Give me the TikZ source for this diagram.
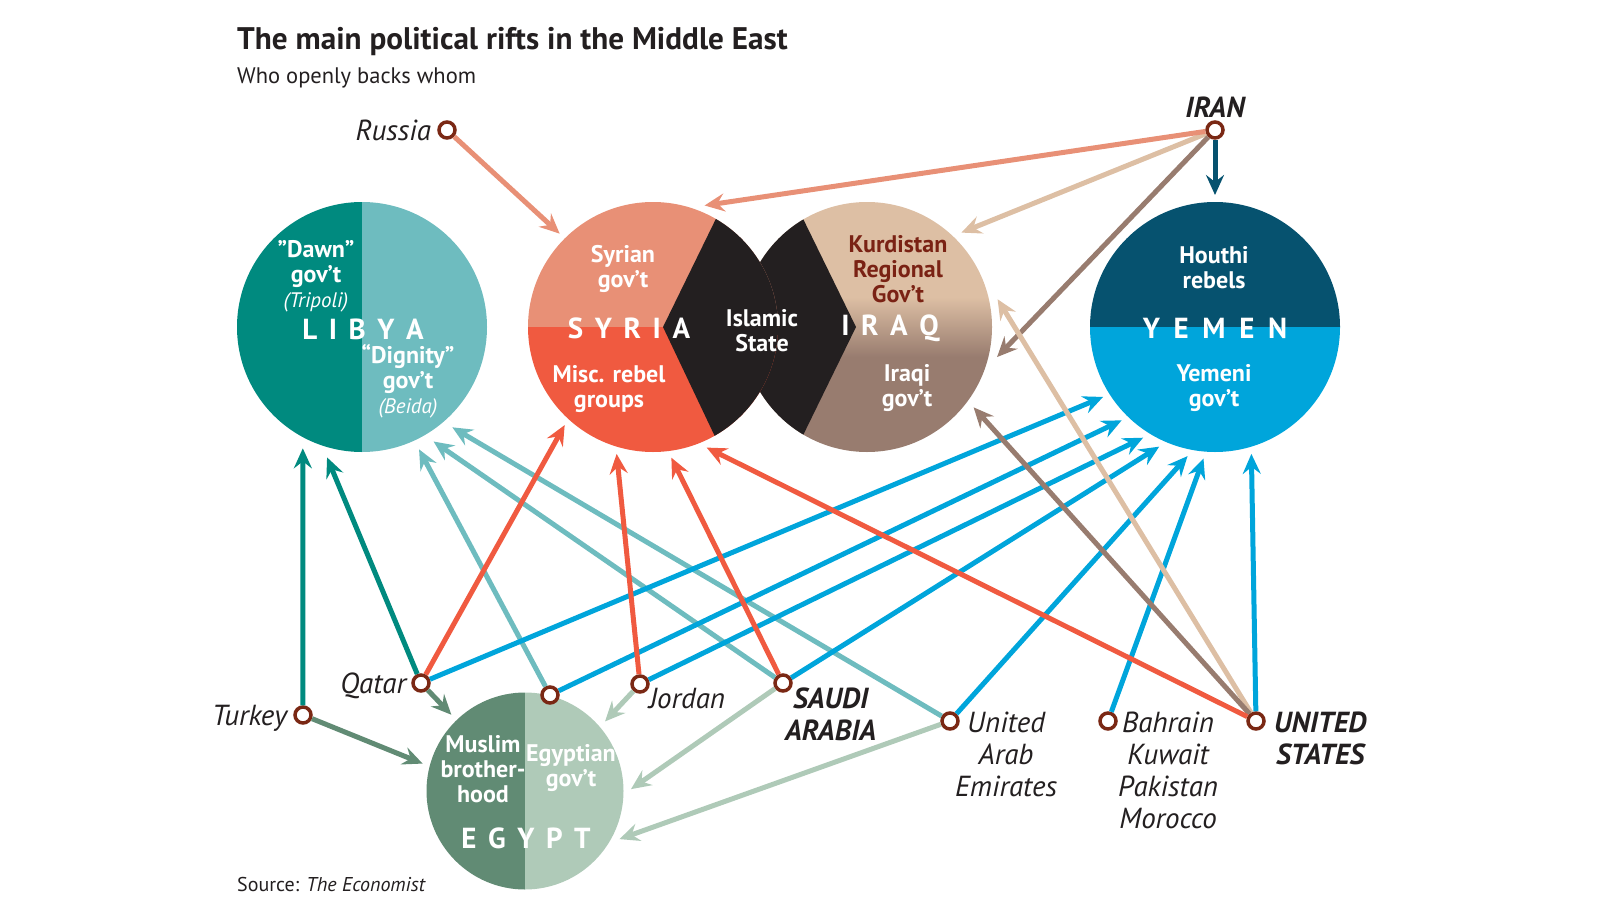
\documentclass[tikz,border=0pt]{standalone}
\usepackage{fontspec}
\setmainfont{PT Sans}
\usepackage{tikz}
\usetikzlibrary{arrows.meta, positioning}
\definecolor{ink}{RGB}{35,31,32}
\definecolor{ringbrown}{RGB}{122,40,20}
\definecolor{dawn}{RGB}{0,138,127}
\definecolor{dignity}{RGB}{110,188,191}
\definecolor{syriagov}{RGB}{232,144,118}
\definecolor{rebels}{RGB}{240,90,64}
\definecolor{isblack}{RGB}{35,31,32}
\definecolor{kurds}{RGB}{221,191,164}
\definecolor{kurdtext}{RGB}{122,34,20}
\definecolor{iraqgov}{RGB}{152,124,111}
\definecolor{houthi}{RGB}{6,82,111}
\definecolor{yemengov}{RGB}{0,165,219}
\definecolor{brotherhood}{RGB}{97,139,116}
\definecolor{egyptgov}{RGB}{175,202,184}
\pgfdeclareverticalshading{iraqfade}{100bp}{color(0bp)=(iraqgov); color(44bp)=(iraqgov); color(56bp)=(kurds); color(100bp)=(kurds)}
\newcommand{\setsz}[2]{\fontsize{#1}{#2}\selectfont}
\newcommand{\lgap}{\hspace{0.4em}}

\begin{document}
\begin{tikzpicture}[x=1pt, y=-1pt,
    zone/.style={circle, minimum size=#1, inner sep=0pt, outer sep=0pt},
    country/.style={circle, draw=ringbrown, fill=white, line width=3.5pt,
                    minimum size=16pt, inner sep=0pt},
    lab/.style={text=ink, font=\itshape\setsz{29}{32}, inner sep=1pt, align=center},
    blab/.style={lab, font=\bfseries\itshape\setsz{29}{32}},
    inlab/.style={text=white, font=\bfseries\setsz{24}{25}, align=center, inner sep=0pt},
    big/.style={text=white, font=\bfseries\setsz{29}{30}, inner sep=0pt},
    arr/.style={line width=5pt, -{Stealth[length=20pt, width=18pt, inset=7pt]}}
  ]
  \useasboundingbox (0,0) rectangle (1598,907);

  \node[anchor=base west, inner sep=0pt, text=ink, font=\bfseries\setsz{31.2}{36}]
    (title) at (237,49) {The main political rifts in the Middle East};
  \node[anchor=base west, inner sep=0pt, text=ink, font=\setsz{22.5}{26}]
    (subtitle) at (237,84) {Who openly backs whom};
  \node[anchor=base west, inner sep=0pt, text=ink, font=\setsz{20}{22}]
    (source) at (237,891) {Source: \textit{The Economist}};

  % the five countries
  \node[zone=270] (libya) at (362,327) {};
  \node[zone=264] (syria) at (653,327) {};
  \node[zone=267] (iraq) at (867,327) {};
  \node[zone=264] (yemen) at (1215,327) {};
  \node[zone=212] (egypt) at (525,791) {};

  \begin{scope}
    \clip (libya.center) circle (125);
    \fill[dawn] (230,195) rectangle (362,460);
    \fill[dignity] (362,195) rectangle (495,460);
  \end{scope}
  \begin{scope}
    \clip (iraq.center) circle (125);
    \shade[shading=iraqfade] (740,202) rectangle (994,452);
    \fill[isblack] (789,190) -- (856,327) -- (789,464) -- (700,464) -- (700,190) -- cycle;
  \end{scope}
  \begin{scope}
    \clip (syria.center) circle (125);
    \fill[syriagov] (525,195) rectangle (780,327);
    \fill[rebels] (525,327) rectangle (780,460);
    \fill[isblack] (730,190) -- (663,327) -- (728,464) -- (800,464) -- (800,190) -- cycle;
  \end{scope}
  \begin{scope}
    \clip (yemen.center) circle (125);
    \fill[houthi] (1085,195) rectangle (1345,327);
    \fill[yemengov] (1085,327) rectangle (1345,460);
  \end{scope}
  \begin{scope}
    \clip (egypt.center) circle (98.5);
    \fill[brotherhood] (420,685) rectangle (525,895);
    \fill[egyptgov] (525,685) rectangle (630,895);
  \end{scope}

  \node[inlab] (dawnlab) at (316,276)
    {"Dawn"\\gov’t\\{\mdseries\itshape\setsz{21}{25}(Tripoli)}};
  \node[inlab] (dignitylab) at (408,381)
    {“Dignity”\\gov’t\\{\mdseries\itshape\setsz{21}{25}(Beida)}};
  \node[big] (libyaname) at (363,329) {L\lgap I\lgap B\lgap Y\lgap A};
  \node[inlab] (syrgovlab) at (623,269) {Syrian\\gov’t};
  \node[inlab] (rebellab) at (609,389) {Misc. rebel\\groups};
  \node[big] (syrianame) at (629,328) {S\lgap Y\lgap R\lgap I\lgap A};
  \node[inlab] (islab) at (762,331) {Islamic\\State};
  \node[inlab, text=kurdtext] (kurdlab) at (898,269) {Kurdistan\\Regional\\Gov’t};
  \node[big] (iraqname) at (890,328) {I\lgap R\lgap A\lgap Q};
  \node[inlab] (iraqgovlab) at (907,388) {Iraqi\\gov’t};
  \node[inlab] (houthilab) at (1214,268) {Houthi\\rebels};
  \node[big] (yemenname) at (1215,328) {Y\hspace{0.47em}E\hspace{0.47em}M\hspace{0.47em}E\hspace{0.47em}N};
  \node[inlab] (yemgovlab) at (1214,388) {Yemeni\\gov’t};
  \node[inlab] (mblab) at (483,769) {Muslim\\brother-\\hood};
  \node[inlab] (egygovlab) at (571,768) {Egyptian\\gov’t};
  \node[big] (egyptname) at (526,838) {E\lgap G\lgap Y\lgap P\lgap T};

  % backers
  \node[country] (russia) at (447,130) {};
  \node[country] (iran) at (1215,130) {};
  \node[country] (turkey) at (303,715) {};
  \node[country] (qatar) at (421,683) {};
  \node[country] (egyptdot) at (550,695) {};
  \node[country] (jordan) at (640,684) {};
  \node[country] (saudi) at (783,683) {};
  \node[country] (uae) at (950,721) {};
  \node[country] (gulf) at (1108,721) {};
  \node[country] (usa) at (1256,721) {};

  \node[lab, left=5pt of russia] (russialab) {Russia};
  \node[blab, above=1pt of iran] (iranlab) {IRAN};
  \node[lab, left=4pt of qatar, yshift=-3pt] (qatarlab) {Qatar};
  \node[lab, left=5pt of turkey, yshift=-3pt] (turkeylab) {Turkey};
  \node[lab, below right=-4pt and 1pt of jordan] (jordanlab) {Jordan};
  \node[blab, below right=-3pt and -6pt of saudi] (saudilab) {SAUDI\\ARABIA};
  \node[lab, below right=-17pt and -3pt of uae] (uaelab) {United\\Arab\\Emirates};
  \node[lab, below right=-17pt and 2pt of gulf] (gulflab) {Bahrain\\Kuwait\\Pakistan\\Morocco};
  \node[blab, below right=-17pt and 10pt of usa] (usalab) {UNITED\\STATES};

  % Libya
  \draw[arr, dawn] (turkey) -- (libya.-116);
  \draw[arr, dawn] (qatar) -- (libya.-105);
  \draw[arr, dignity] (egyptdot) -- (libya.-65);
  \draw[arr, dignity] (saudi) -- (libya.-58);
  \draw[arr, dignity] (uae) -- (libya.-48);
  % Egypt
  \draw[arr, brotherhood] (turkey) -- (egypt.165);
  \draw[arr, brotherhood] (qatar) -- (egypt.134);
  \draw[arr, egyptgov] (jordan) -- (egypt.41);
  \draw[arr, egyptgov] (saudi) -- (egypt.1);
  \draw[arr, egyptgov] (uae) -- (egypt.-27);
  % Yemen
  \draw[arr, houthi] (iran) -- (yemen.90);
  \draw[arr, yemengov] (qatar) -- (yemen.-148);
  \draw[arr, yemengov] (egyptdot) -- (yemen.-135);
  \draw[arr, yemengov] (jordan) -- (yemen.-123);
  \draw[arr, yemengov] (saudi) -- (yemen.-115);
  \draw[arr, yemengov] (uae) -- (yemen.-102);
  \draw[arr, yemengov] (gulf) -- (yemen.-95);
  \draw[arr, yemengov] (usa) -- (yemen.-74);
  % Iraq
  \draw[arr, kurds] (iran) -- (iraq.45);
  \draw[arr, iraqgov] (iran) -- (iraq.-13);
  \draw[arr, kurds] (usa) -- (iraq.12);
  \draw[arr, iraqgov] (usa) -- (iraq.-37);
  % Syria
  \draw[arr, syriagov] (russia) -- (syria.135);
  \draw[arr, syriagov] (iran) -- (syria.67);
  \draw[arr, rebels] (qatar) -- (syria.-132);
  \draw[arr, rebels] (jordan) -- (syria.-106);
  \draw[arr, rebels] (saudi) -- (syria.-82);
  \draw[arr, rebels] (usa) -- (syria.-66);
\end{tikzpicture}
\end{document}
